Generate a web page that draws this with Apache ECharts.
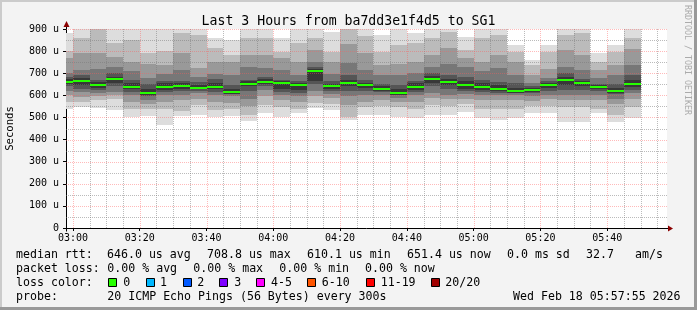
<!DOCTYPE html>
<html><head><meta charset="utf-8">
<script src="https://cdn.jsdelivr.net/npm/echarts@6/dist/echarts.min.js"></script>
<style>html,body{margin:0;padding:0;background:#f3f3f3}#c{width:697px;height:310px}</style>
</head><body><div id="c"></div>
<script>
// ---------- DATA ----------
const windowStart = '02:57:55';
const windowEnd = '05:57:55';
const xTickLabels = ['03:00','03:20','03:40','04:00','04:20','04:40','05:00','05:20','05:40'];
const yTicks = [0,100,200,300,400,500,600,700,800,900];
// 5-minute buckets (start time of each)
const bucketStarts = ['02:55','03:00','03:05','03:10','03:15','03:20','03:25','03:30','03:35','03:40','03:45','03:50',
  '03:55','04:00','04:05','04:10','04:15','04:20','04:25','04:30','04:35','04:40','04:45','04:50',
  '04:55','05:00','05:05','05:10','05:15','05:20','05:25','05:30','05:35','05:40','05:45'];
// median rtt (us)
const median = [662,667,647,672,638,610.1,638,644,635,638,615,653,662,656,647,708.8,642,656,647,630,611,638,672,662,647,638,630,620,624,647,671,656,638,620,651.4];
// smoke bands (outer -> inner), low / high in us
const band1Lo = [538,549,541,534,500,505,466,505,511,503,505,485,518,503,518,541,533,488,511,511,503,496,511,511,526,496,488,496,518,518,480,480,518,480,496];
const band1Hi = [882,920,920,920,920,920,920,905,920,858,850,920,920,858,920,920,888,920,920,873,920,880,920,920,865,920,920,828,760,828,920,920,790,828,920];
const band2Lo = [570,571,580,585,540,540,540,530,555,535,540,510,555,548,540,565,560,503,545,550,548,540,555,550,560,540,540,540,550,550,545,548,540,510,545];
const band2Hi = [800,858,905,835,850,790,800,880,875,812,782,858,858,798,835,858,798,910,870,798,828,835,858,888,805,858,875,798,737,798,875,880,752,798,858];
const band3Lo = [600,594,597,600,570,560,572,580,585,570,566,550,595,580,570,595,590,555,570,580,570,570,590,585,582,580,580,580,575,583,580,580,580,560,585];
const band3Hi = [767,790,790,775,752,740,738,790,722,752,752,782,782,767,752,805,752,830,790,737,743,752,782,813,767,752,782,752,692,720,805,782,714,737,810];
const band4Lo = [620,616,612,615,602,580,600,600,610,600,595,585,625,600,595,620,608,595,600,600,590,600,610,600,605,600,600,600,595,600,600,600,600,585,610];
const band4Hi = [700,714,720,730,710,680,695,715,685,695,692,730,722,714,692,752,695,748,714,692,692,700,730,743,730,710,722,692,655,677,730,715,677,692,737];
const band5Lo = [640,630,625,640,615,595,615,620,620,615,605,620,640,615,612,650,620,620,620,615,600,615,640,630,620,617,612,610,610,620,625,625,620,605,625];
const band5Hi = [685,690,670,700,670,650,665,665,660,675,645,670,685,670,665,730,665,690,670,650,645,665,700,692,685,670,662,655,640,665,700,675,650,650,692];
const band6Lo = [650,645,635,655,628,603,625,630,628,628,608,640,650,630,625,665,630,640,635,620,603,625,655,645,630,625,620,612,615,635,645,640,628,612,638];
const band6Hi = [672,677,660,685,655,630,655,655,648,655,630,665,672,665,655,718,652,668,655,640,630,655,686,672,665,655,645,635,632,657,685,665,647,635,670];
const lossLabels = ['0','1','2','3','4-5','6-10','11-19','20/20'];

// ---------- STYLE ----------
const lossColors = ['#26ff00','#00b8ff','#0059ff','#7e00ff','#ff00ff','#ff5500','#ff0000','#a10000'];
const bandColors = ['#dddddd','#bbbbbb','#999999','#777777','#555555','#383838'];
const MONO = '"DejaVu Sans Mono", monospace';

const toMin = s => { const p = s.split(':').map(Number); return p[0]*60 + p[1] + (p[2]||0)/60; };
const X_MIN = toMin(windowStart), X_MAX = toMin(windowEnd);
const Y_MIN = 0, Y_MAX = 900;
const STEP = 5;

const bands = [[band1Lo,band1Hi],[band2Lo,band2Hi],[band3Lo,band3Hi],[band4Lo,band4Hi],[band5Lo,band5Hi],[band6Lo,band6Hi]];
const smokeData = [];
bands.forEach((b, bi) => {
  bucketStarts.forEach((s, i) => {
    const t = toMin(s);
    smokeData.push([t, t + STEP, b[0][i], b[1][i], bi]);
  });
});
const medianData = bucketStarts.map((s, i) => [toMin(s), toMin(s) + STEP, median[i]]);

// grid lines (5 min minor / 20 min major, 50 minor / 100 major)
const gridMinor = [], gridMajor = [];
for (let t = Math.ceil(X_MIN / STEP) * STEP; t < X_MAX; t += STEP) {
  (t % 20 === 0 ? gridMajor : gridMinor).push([0, t]);
}
for (let v = 50; v <= Y_MAX; v += 50) {
  (v % 100 === 0 ? gridMajor : gridMinor).push([1, v]);
}

const fmt = v => { const h = Math.floor(v / 60), m = Math.round(v % 60); return String(h).padStart(2,'0') + ':' + String(m).padStart(2,'0'); };

function smokeRender(params, api) {
  const s = Math.max(api.value(0), X_MIN), e = Math.min(api.value(1), X_MAX);
  if (e <= s) return null;
  const lo = Math.max(api.value(2), Y_MIN), hi = Math.min(api.value(3), Y_MAX);
  const p0 = api.coord([s, hi]), p1 = api.coord([e, lo]);
  const x0 = Math.round(p0[0]), x1 = Math.round(p1[0]);
  const y0 = Math.round(p0[1]), y1 = Math.round(p1[1]);
  return { type: 'rect', z2: api.value(4), shape: { x: x0, y: y0, width: x1 - x0, height: y1 - y0 },
    style: { fill: bandColors[api.value(4)] } };
}
function medianRender(params, api) {
  const s = Math.max(api.value(0), X_MIN), e = Math.min(api.value(1), X_MAX);
  const p0 = api.coord([s, api.value(2)]), p1 = api.coord([e, api.value(2)]);
  const x0 = Math.round(p0[0]), x1 = Math.round(p1[0]);
  const y = Math.round(p0[1]);
  return { type: 'rect', shape: { x: x0, y: y - 1, width: x1 - x0, height: 2 }, style: { fill: lossColors[0] } };
}
function gridRender(color) {
  return function (params, api) {
    const cs = params.coordSys;
    if (api.value(0) === 0) {
      const x = Math.round(api.coord([api.value(1), Y_MIN])[0]) + 0.5;
      return { type: 'line', shape: { x1: x, y1: cs.y, x2: x, y2: cs.y + cs.height }, style: { stroke: color, lineWidth: 1, lineDash: [1, 1] } };
    }
    const y = Math.round(api.coord([X_MIN, api.value(1)])[1]) + 0.5;
    return { type: 'line', shape: { x1: cs.x, y1: y, x2: cs.x + cs.width, y2: y }, style: { stroke: color, lineWidth: 1, lineDash: [1, 1] } };
  };
}

// legend text graphics
const txt = (text, x, y, extra) => Object.assign({ type: 'text', x: x, y: y, silent: true,
  style: { text: text, font: '11.6px ' + MONO, fill: '#000', align: 'left', verticalAlign: 'middle' } }, extra || {});
const g = [];
// borders
g.push({ type: 'rect', shape: { x: 0, y: 0, width: 697, height: 2 }, style: { fill: '#cbcbcb' } });
g.push({ type: 'rect', shape: { x: 0, y: 0, width: 2, height: 310 }, style: { fill: '#cbcbcb' } });
g.push({ type: 'rect', shape: { x: 0, y: 307, width: 697, height: 3 }, style: { fill: '#999999' } });
g.push({ type: 'rect', shape: { x: 694, y: 0, width: 3, height: 310 }, style: { fill: '#999999' } });
// side labels
g.push({ type: 'text', x: 10, y: 128.5, rotation: Math.PI / 2, style: { text: 'Seconds', font: '10.6px ' + MONO, fill: '#000', align: 'center', verticalAlign: 'middle' } });
g.push({ type: 'text', x: 687, y: 60, rotation: -Math.PI / 2, style: { text: 'RRDTOOL / TOBI OETIKER', font: '8.3px ' + MONO, fill: '#ababab', align: 'center', verticalAlign: 'middle' } });
// row 1
const r1 = 254.5, r2 = 268.5, r3 = 282.5, r4 = 296.5;
g.push(txt('median rtt:', 16, r1));
g.push(txt('646.0 us avg', 107, r1));
g.push(txt('708.8 us max', 207, r1));
g.push(txt('610.1 us min', 307, r1));
g.push(txt('651.4 us now', 407, r1));
g.push(txt('0.0 ms sd', 507, r1));
g.push(txt('32.7', 586, r1));
g.push(txt('am/s', 635, r1));
// row 2
g.push(txt('packet loss:', 16, r2));
g.push(txt('0.00 % avg', 107.3, r2));
g.push(txt('0.00 % max', 193.3, r2));
g.push(txt('0.00 % min', 279.3, r2));
g.push(txt('0.00 % now', 365, r2));
// row 3
g.push(txt('loss color:', 16, r3));
const boxX = [108, 145.5, 182.5, 219, 256, 307, 365.5, 430.5];
const labX = [123.3, 160, 197.3, 234.3, 271, 321.7, 380.7, 445.3];
lossLabels.forEach((l, i) => {
  g.push({ type: 'rect', shape: { x: Math.round(boxX[i]) + 0.5, y: 278.5, width: 8, height: 8 }, style: { fill: lossColors[i], stroke: '#000', lineWidth: 1 } });
  g.push(txt(l, labX[i], r3));
});
// row 4
g.push(txt('probe:', 16, r4));
g.push(txt('20 ICMP Echo Pings (56 Bytes) every 300s', 107.3, r4));
g.push(txt('Wed Feb 18 05:57:55 2026', 513, r4));

const chart = echarts.init(document.getElementById('c'), null, { renderer: 'canvas' });
chart.setOption({
  animation: false,
  backgroundColor: '#f3f3f3',
  title: { text: 'Last 3 Hours from ba7dd3e1f4d5 to SG1', left: 'center', top: 10,
    textStyle: { fontFamily: MONO, fontSize: 13.2, fontWeight: 'normal', color: '#000' } },
  grid: { left: 66, right: 30, top: 29, bottom: 82, show: true, backgroundColor: '#ffffff', borderWidth: 0 },
  xAxis: {
    type: 'value', min: X_MIN, max: X_MAX,
    axisLine: { show: true, lineStyle: { color: '#000', width: 1 } },
    axisTick: { show: true, length: 3, lineStyle: { color: '#000' }, customValues: xTickLabels.map(toMin) },
    axisLabel: { show: true, margin: 5, fontFamily: MONO, fontSize: 10, color: '#000', customValues: xTickLabels.map(toMin), formatter: v => fmt(v) },
    splitLine: { show: false }
  },
  yAxis: {
    type: 'value', min: Y_MIN, max: Y_MAX, interval: 100,
    axisLine: { show: true, lineStyle: { color: '#000', width: 1 } },
    axisTick: { show: true, length: 3, lineStyle: { color: '#000' } },
    axisLabel: { margin: 7, fontFamily: MONO, fontSize: 10, color: '#000', formatter: v => v === 0 ? '0' : v + ' u' },
    splitLine: { show: false }
  },
  series: [
    { type: 'custom', name: 'smoke', z: 2, clip: true, renderItem: smokeRender, data: smokeData, encode: { x: [0, 1], y: [2, 3] }, silent: true },
    { type: 'custom', name: 'gridMinor', z: 3, renderItem: gridRender('rgba(120,120,120,0.5)'), data: gridMinor, encode: { x: -1, y: -1 }, silent: true },
    { type: 'custom', name: 'gridMajor', z: 3, renderItem: gridRender('rgba(255,90,90,0.42)'), data: gridMajor, encode: { x: -1, y: -1 }, silent: true },
    { type: 'custom', name: 'median', z: 4, clip: true, renderItem: medianRender, data: medianData, encode: { x: [0, 1], y: 2 }, silent: true }
  ],
  graphic: g
});

// axis arrows (positions from the chart's own scales)
const pEnd = chart.convertToPixel({ gridIndex: 0 }, [X_MAX, Y_MIN]);
const pTop = chart.convertToPixel({ gridIndex: 0 }, [X_MIN, Y_MAX]);
const ax = Math.round(pEnd[0]), ay = Math.round(pEnd[1]) + 0.5;
const tx = Math.round(pTop[0]) + 0.5, ty = Math.round(pTop[1]);
chart.setOption({ graphic: g.concat([
  { type: 'line', shape: { x1: ax, y1: ay, x2: ax + 3, y2: ay }, style: { stroke: '#000', lineWidth: 1 } },
  { type: 'polygon', shape: { points: [[ax + 1, ay - 3], [ax + 6, ay], [ax + 1, ay + 3]] }, style: { fill: '#8b0000' } },
  { type: 'line', shape: { x1: tx, y1: ty, x2: tx, y2: ty - 3 }, style: { stroke: '#000', lineWidth: 1 } },
  { type: 'polygon', shape: { points: [[tx - 3, ty - 2], [tx, ty - 8], [tx + 3, ty - 2]] }, style: { fill: '#8b0000' } },
  { type: 'line', shape: { x1: tx, y1: ay, x2: tx, y2: ay + 3 }, style: { stroke: '#000', lineWidth: 1 } }
]) });
</script>
</body></html>
